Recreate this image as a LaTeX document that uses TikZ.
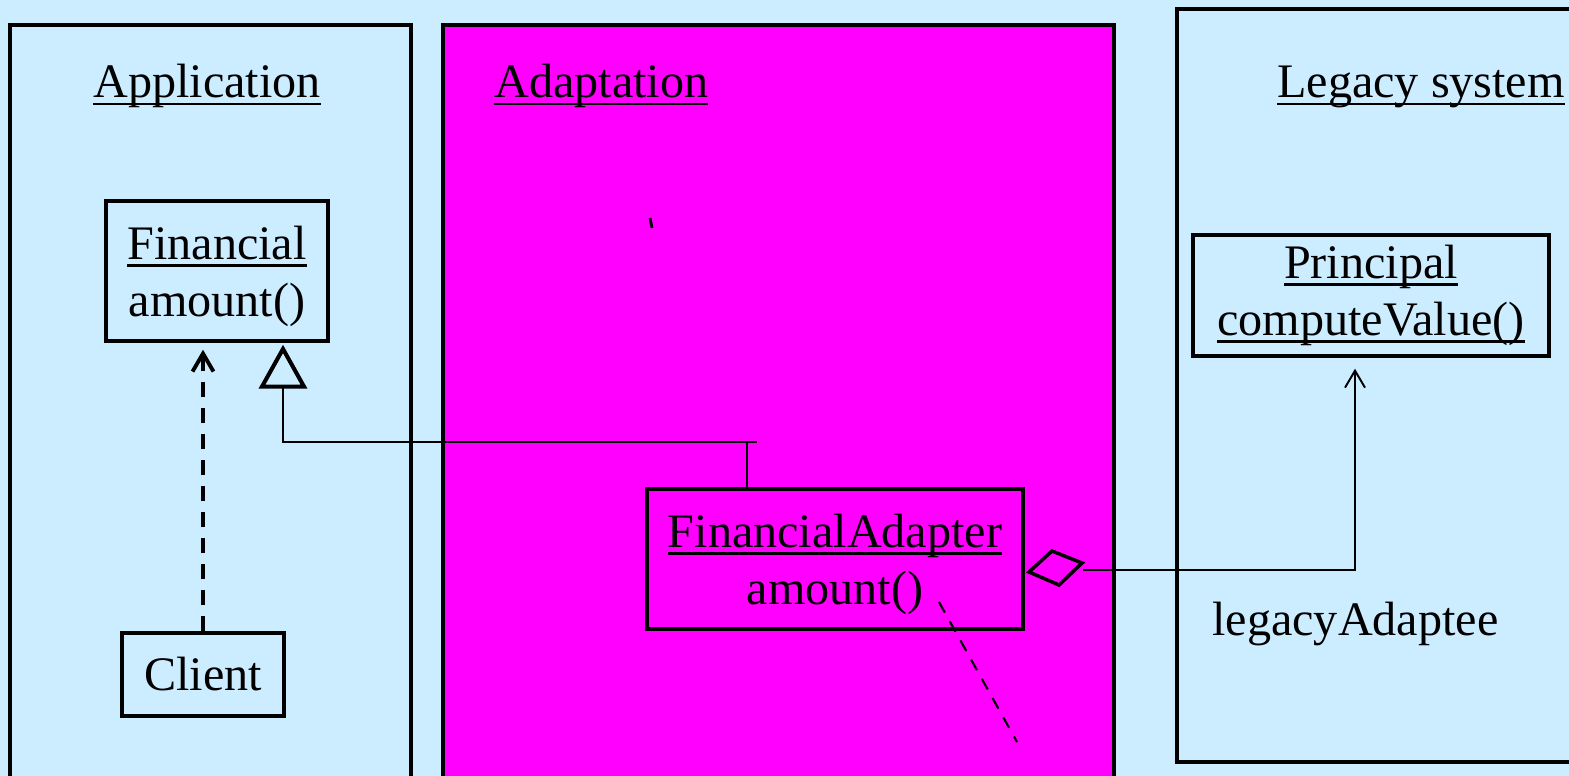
\documentclass[tikz,border=0pt]{standalone}
\usepackage{fontspec}
\setmainfont{Liberation Serif}
\usetikzlibrary{arrows.meta}
\definecolor{paneblue}{RGB}{204,236,255}
\definecolor{adaptpink}{RGB}{255,0,255}
\newsavebox\undlbox
\newcommand\undl[1]{\sbox\undlbox{#1}\rlap{\rule[-0.15em]{\wd\undlbox}{0.055em}}\usebox\undlbox}
\newcommand\hstrut{\rule{0pt}{0.92em}}
\tikzset{
  pane/.style={line width=2.3pt},
  title/.style={inner sep=0pt},
  classbox/.style={draw, line width=2pt, align=center, inner sep=0pt},
  thinline/.style={line width=1.1pt},
  depline/.style={line width=2.2pt, dash pattern=on 0.3cm off 0.22cm,
    -{Straight Barb[length=0.36cm,width=0.42cm]}},
  noteline/.style={line width=1.2pt, dash pattern=on 0.24cm off 0.2cm}
}
\begin{document}
\begin{tikzpicture}[x=0.02cm,y=-0.02cm,font=\fontsize{27.4}{32.4}\selectfont]
  \fill[paneblue] (0,0) rectangle (1569,776);
  \useasboundingbox (0,0) rectangle (1569,776);
  % die Bereiche
  \draw[pane,fill=paneblue] (10,25) rectangle (411,800);
  \draw[pane,fill=adaptpink] (443,25) rectangle (1114,800);
  \draw[pane,fill=paneblue] (1177,9) rectangle (1600,762);
  \node[title,anchor=base] (apptitle) at (207,98) {\undl{Application}};
  \node[title,anchor=base west] (adapttitle) at (494,98) {\undl{Adaptation}};
  \node[title,anchor=base] (legtitle) at (1421,98) {\undl{Legacy system}};
  % die Klassen
  \node[classbox,minimum width=4.44cm,minimum height=2.8cm] (fin) at (217,271)
    {\hstrut\undl{Financial}\\amount()};
  \node[classbox,minimum width=3.24cm,minimum height=1.66cm] (client) at (203,674.5) {Client};
  \node[classbox,minimum width=7.52cm,minimum height=2.8cm] (fadapt) at (835,559)
    {\hstrut\undl{FinancialAdapter}\\amount()};
  \node[classbox,minimum width=7.12cm,minimum height=2.42cm] (principal) at (1371,295.5)
    {\undl{Principal}\\\undl{computeValue()}};
  \node[title,anchor=base west] (adaptee) at (1212,636) {legacyAdaptee};
  % Abhaengigkeit
  \draw[depline,shorten >=0.14cm] (client.north) -- (client.north |- fin.south);
  % Generalisierung
  \coordinate (genL) at (283,442);
  \coordinate (genR) at (757,442);
  \coordinate (genD) at (747,442);
  \draw[thinline,-{Triangle[open,length=0.88cm,width=0.96cm,line width=2.3pt]},shorten >=0.04cm]
    (genR) -- (genL) -- (genL |- fin.south);
  \draw[thinline] (genD) -- (genD |- fadapt.north);
  % Aggregation
  \draw[line width=2pt] (1029,572) -- (1052,551) -- (1082,563) -- (1059,585) -- cycle;
  \coordinate (aggL) at (1083,570);
  \coordinate (aggC) at (1355,570);
  \draw[thinline,-{Straight Barb[length=0.34cm,width=0.4cm]},shorten >=0.22cm]
    (aggL) -- (aggC) -- (aggC |- principal.south);
  % Notizlinie und Strich
  \draw[noteline] (939,602) -- (1017,742);
  \draw[line width=1.6pt] (650,218) -- (652,228);
\end{tikzpicture}
\end{document}
